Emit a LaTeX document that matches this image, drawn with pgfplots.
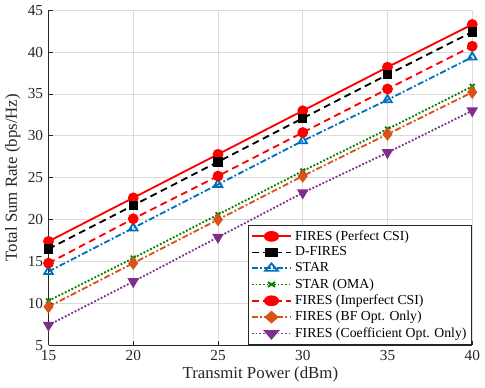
\documentclass[border=0pt]{standalone}
\usepackage{pgfplots}
\pgfplotsset{compat=1.18}
\usepackage{fontspec}
\setmainfont{Liberation Serif}
\definecolor{mblue}{rgb}{0,0.447,0.741}
\definecolor{mgreen}{rgb}{0,0.5,0}
\definecolor{morange}{rgb}{0.85,0.325,0.098}
\definecolor{mpurple}{rgb}{0.494,0.184,0.556}
\definecolor{axgray}{rgb}{0.15,0.15,0.15}
\begin{document}
\begin{tikzpicture}
\begin{axis}[
  scale only axis,
  width=277pt, height=219pt,
  xmin=15, xmax=40, ymin=5, ymax=45,
  xtick={15,20,25,30,35,40},
  ytick={5,10,...,45},
  grid=major,
  grid style={black!14, line width=0.5pt},
  axis x line*=bottom, axis y line*=left,
  xlabel={Transmit Power (dBm)},
  ylabel={Total Sum Rate (bps/Hz)},
  /pgf/number format/assume math mode=true,
  tick label style={font=\fontsize{10}{12}\selectfont, text=axgray},
  label style={font=\fontsize{11}{13}\selectfont, text=axgray},
  xlabel style={yshift=3pt},
  ylabel style={yshift=-2pt},
  tick align=inside,
  major tick length=3pt,
  tick style={axgray, line width=0.5pt},
  axis line style={axgray, line width=0.6pt},
  legend style={at={(rel axis cs:1,0)}, anchor=south east,
    font=\fontsize{9}{10.5}\selectfont, row sep=-1.1pt, inner sep=1.5pt, draw=axgray, line width=0.5pt, cells={anchor=west}},
  legend cell align=left,
  legend image post style={xscale=1.5},
  every axis plot/.append style={line width=1.2pt},
]
\addplot[red, solid, mark=*, mark size=2.9pt] coordinates {(15,17.4)(20,22.6)(25,27.8)(30,33.0)(35,38.2)(40,43.3)};
\addlegendentry{FIRES (Perfect CSI)}
\addplot[black, dash pattern=on 4.5pt off 3pt, mark=square*, mark size=2.5pt, mark options={solid}] coordinates {(15,16.5)(20,21.7)(25,26.9)(30,32.1)(35,37.3)(40,42.4)};
\addlegendentry{D-FIRES}
\addplot[mblue, dash pattern=on 4pt off 1.5pt on 1.2pt off 1.5pt, mark=triangle, mark size=3.2pt, mark options={solid, fill=white}] coordinates {(15,13.8)(20,19.0)(25,24.2)(30,29.4)(35,34.3)(40,39.4)};
\addlegendentry{STAR}
\addplot[mgreen, dash pattern=on 1.2pt off 1.2pt, mark=x, mark size=2.2pt, mark options={solid}] coordinates {(15,10.3)(20,15.4)(25,20.6)(30,25.8)(35,30.8)(40,35.9)};
\addlegendentry{STAR (OMA)}
\addplot[red, dash pattern=on 4.5pt off 3pt, mark=*, mark size=2.9pt, mark options={solid}] coordinates {(15,14.8)(20,20.1)(25,25.2)(30,30.4)(35,35.6)(40,40.7)};
\addlegendentry{FIRES (Imperfect CSI)}
\addplot[morange, dash pattern=on 4pt off 1.5pt on 1.2pt off 1.5pt, mark=diamond*, mark size=3.4pt, mark options={solid}] coordinates {(15,9.6)(20,14.8)(25,20.0)(30,25.2)(35,30.2)(40,35.2)};
\addlegendentry{FIRES (BF Opt. Only)}
\addplot[mpurple, dash pattern=on 1.2pt off 1.2pt, mark=triangle*, mark size=3.2pt, mark options={solid, rotate=180}] coordinates {(15,7.4)(20,12.6)(25,17.9)(30,23.2)(35,28.0)(40,33.0)};
\addlegendentry{FIRES (Coefficient Opt. Only)}
\end{axis}
\end{tikzpicture}
\end{document}
